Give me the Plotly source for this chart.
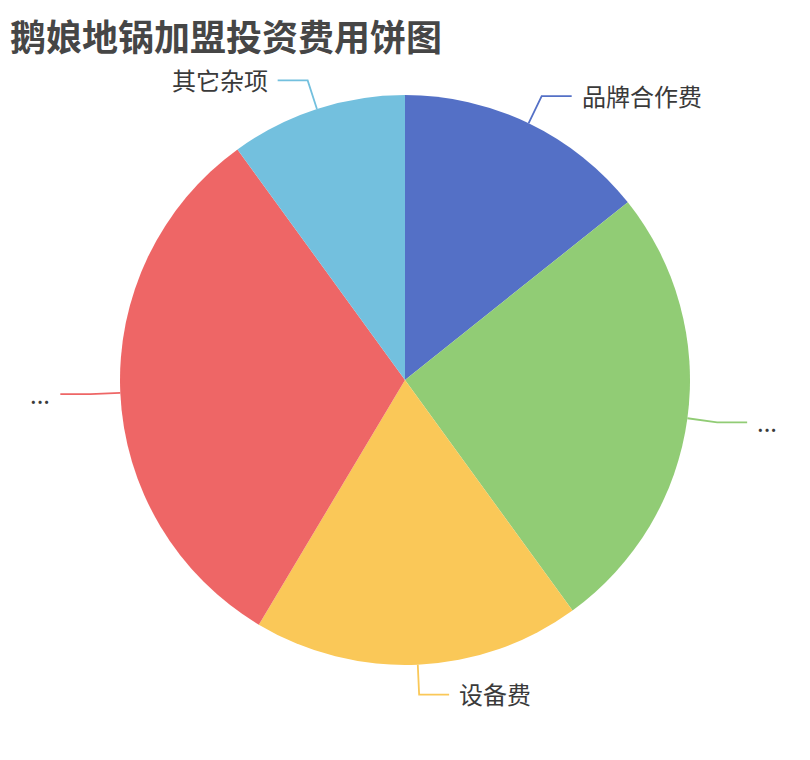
import numpy as np
import plotly.graph_objects as go

# 投资费用 (万元)
labels = ["品牌合作费", "...", "设备费", "...", "其它杂项"]
values = [5, 9, 6.5, 11, 3.5]
colors = ["#5470c6", "#91cc75", "#fac858", "#ee6666", "#73c0de"]

W, H = 810, 760
off = 8  # page body margin
cx, cy, R = 405 - off, 380 - off, 285
len1, len2, gap = 30, 30, 8

fig = go.Figure()

fig.add_trace(go.Pie(
    labels=[str(i) for i in range(len(values))],
    values=values,
    sort=False,
    direction="clockwise",
    rotation=0,
    textinfo="none",
    hoverinfo="skip",
    marker=dict(colors=colors, line=dict(width=0)),
    domain=dict(x=[(cx - R) / W, (cx + R) / W], y=[1 - (cy + R) / H, 1 - (cy - R) / H]),
    showlegend=False,
))


def px(x):
    return x / W


def py(y):
    return 1 - y / H


# leader lines and labels, positions from the slice mid angles
total = sum(values)
cum = np.cumsum([0] + values)
shapes, annos = [], []
for i, v in enumerate(values):
    mid = (cum[i] + v / 2) / total * 2 * np.pi
    sx, sy = np.sin(mid), -np.cos(mid)
    x0, y0 = cx + R * sx, cy + R * sy
    x1, y1 = cx + (R + len1) * sx, cy + (R + len1) * sy
    side = 1 if sx >= 0 else -1
    x2 = x1 + side * len2
    shapes.append(dict(
        type="path", xref="paper", yref="paper",
        path=f"M {px(x0)} {py(y0)} L {px(x1)} {py(y1)} L {px(x2)} {py(y1)}",
        line=dict(color=colors[i], width=1.8),
    ))
    annos.append(dict(
        x=px(x2 + side * gap), y=py(y1 - 1), xref="paper", yref="paper",
        text=labels[i], showarrow=False,
        xanchor="left" if side > 0 else "right", yanchor="middle",
        font=dict(size=24, color="#3a3a3a", family="Noto Sans CJK SC"),
    ))

annos.append(dict(
    x=px(1), y=1, xref="paper", yref="paper",
    text="<b>鹅娘地锅加盟投资费用饼图</b>", showarrow=False,
    xanchor="left", yanchor="top", borderpad=0,
    font=dict(size=36, color="#464646", family="Noto Sans CJK SC"),
))

fig.update_layout(
    width=W, height=H,
    margin=dict(l=0, r=0, t=0, b=0),
    paper_bgcolor="white",
    shapes=shapes,
    annotations=annos,
)

fig.write_html("out.html")
